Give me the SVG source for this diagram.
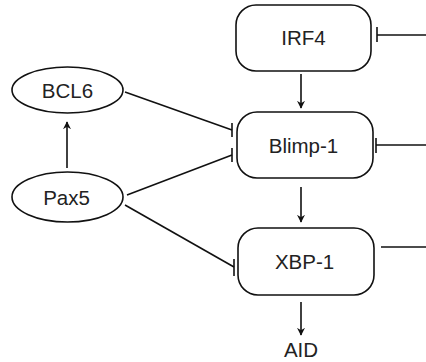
<svg xmlns="http://www.w3.org/2000/svg" width="426" height="362" viewBox="0 0 426 362">
  <style>
    .box { fill: #fff; stroke: #111; stroke-width: 1.6; }
    .lbl { font-family: "Liberation Sans", Arial, sans-serif; font-size: 20.5px; fill: #222; text-anchor: middle; }
    .edge { fill: none; stroke: #111; stroke-width: 1.6; }
  </style>
  <defs>
    <marker id="arrow" viewBox="0 0 10 10" refX="9" refY="5" markerWidth="8" markerHeight="8" markerUnits="userSpaceOnUse" orient="auto">
      <path d="M0,0 L10,5 L0,10 L3,5 Z" fill="#111"/>
    </marker>
  </defs>

  <rect width="426" height="362" fill="#fff"/>

  <g id="connectors">
    <!-- activation arrows -->
    <line class="edge" x1="301" y1="74" x2="301" y2="108" marker-end="url(#arrow)"/>
    <line class="edge" x1="301" y1="187" x2="301" y2="222" marker-end="url(#arrow)"/>
    <line class="edge" x1="301" y1="302" x2="301" y2="335" marker-end="url(#arrow)"/>
    <line class="edge" x1="67" y1="168" x2="67" y2="122" marker-end="url(#arrow)"/>
    <!-- inhibition: BCL6 -| Blimp-1 -->
    <line class="edge" x1="125" y1="92" x2="232" y2="130"/>
    <line class="edge" x1="232" y1="123" x2="232" y2="137"/>
    <!-- inhibition: Pax5 -| Blimp-1 -->
    <line class="edge" x1="127" y1="195" x2="232" y2="155"/>
    <line class="edge" x1="232" y1="148" x2="232" y2="162"/>
    <!-- inhibition: Pax5 -| XBP-1 -->
    <line class="edge" x1="125" y1="205" x2="234" y2="267"/>
    <line class="edge" x1="234" y1="259" x2="234" y2="276"/>
    <!-- inputs from the right -->
    <line class="edge" x1="377" y1="35" x2="426" y2="35"/>
    <line class="edge" x1="377" y1="27" x2="377" y2="42"/>
    <line class="edge" x1="376" y1="145" x2="426" y2="145"/>
    <line class="edge" x1="376" y1="138" x2="376" y2="153"/>
    <line class="edge" x1="381" y1="247" x2="426" y2="247"/>
  </g>

  <g id="irf4">
    <rect class="box" x="236" y="5" width="135" height="66" rx="20"/>
    <text class="lbl" x="303.5" y="45">IRF4</text>
  </g>
  <g id="blimp1">
    <rect class="box" x="237" y="112" width="136" height="66" rx="20"/>
    <text class="lbl" x="303.5" y="152.5">Blimp-1</text>
  </g>
  <g id="xbp1">
    <rect class="box" x="238" y="228" width="136" height="67" rx="20"/>
    <text class="lbl" x="304.5" y="269">XBP-1</text>
  </g>
  <g id="bcl6">
    <ellipse class="box" cx="67.5" cy="90" rx="55.5" ry="23"/>
    <text class="lbl" x="67.5" y="97.5">BCL6</text>
  </g>
  <g id="pax5">
    <ellipse class="box" cx="67.5" cy="197" rx="55.5" ry="25"/>
    <text class="lbl" x="66.5" y="205">Pax5</text>
  </g>
  <g id="aid">
    <text class="lbl" x="301" y="357">AID</text>
  </g>
</svg>
